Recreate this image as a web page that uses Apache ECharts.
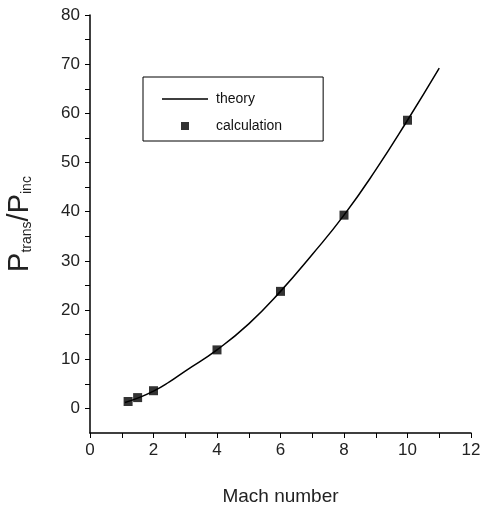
<!DOCTYPE html>
<html><head><meta charset="utf-8">
<script src="https://cdn.jsdelivr.net/npm/echarts@6/dist/echarts.min.js"></script>
<style>html,body{margin:0;padding:0;background:#fff}#c{width:482px;height:511px}</style>
</head><body><div id="c"></div>
<script>
// Theory curve
const theoryMach = [1.1, 1.5, 2, 2.5, 3, 4, 5, 6, 7, 8, 9, 10, 11];
const theoryRatio = [1.2, 2.1, 3.5, 5.4, 7.6, 11.9, 17.2, 23.8, 31.3, 39.3, 48.5, 58.6, 69.2];
// Calculation points
const calcMach = [1.2, 1.5, 2, 4, 6, 8, 10];
const calcRatio = [1.4, 2.2, 3.6, 11.9, 23.8, 39.3, 58.6];
// Tick labels
const xTicks = [0, 2, 4, 6, 8, 10, 12];
const yTicks = [0, 10, 20, 30, 40, 50, 60, 70, 80];

const xMinor = [];
for (let i = 0; i <= 12; i++) xMinor.push(i);
const yMinor = [];
for (let v = 0; v <= 80; v += 5) yMinor.push(v);

const font = 'Liberation Sans, Arial, sans-serif';
const chart = echarts.init(document.getElementById('c'), null, {renderer: 'canvas'});
chart.setOption({
  animation: false,
  backgroundColor: '#fff',
  color: ['#000', '#000'],
  grid: {left: 90, right: 11, top: 15, bottom: 78, containLabel: false, outerBoundsMode: 'none'},
  legend: {
    left: 143, top: 77, orient: 'vertical',
    borderColor: '#000', borderWidth: 1,
    padding: [15, 41, 8, 19],
    itemGap: 13,
    itemWidth: 46, itemHeight: 12,
    textStyle: {fontFamily: font, fontSize: 14, color: '#111', padding: [0, 0, 0, 3]},
    data: [
      {name: 'theory',
       icon: 'path://M0,0L0.01,0L0.01,0.01L0,0.01Z M0,5.3L46,5.3L46,6.7L0,6.7Z M45.99,11.99L46,11.99L46,12L45.99,12Z',
       itemStyle: {color: '#000'}},
      {name: 'calculation',
       icon: 'path://M0,0L0.01,0L0.01,0.01L0,0.01Z M19,2L27,2L27,10L19,10Z M45.99,11.99L46,11.99L46,12L45.99,12Z',
       itemStyle: {color: '#000'}}
    ]
  },
  xAxis: {
    type: 'value', min: 0, max: 12,
    name: 'Mach number', nameLocation: 'middle', nameGap: 54,
    nameTextStyle: {fontFamily: font, fontSize: 19, color: '#222'},
    axisLine: {onZero: false, lineStyle: {color: '#000', width: 1.5}},
    axisTick: {show: true, length: 5, customValues: xMinor, lineStyle: {color: '#000'}},
    axisLabel: {customValues: xTicks, fontFamily: font, fontSize: 17, color: '#222', margin: 9},
    splitLine: {show: false}
  },
  yAxis: {
    type: 'value', min: -5, max: 80,
    name: '{p|P}{s|trans}{p|/P}{s|inc}', nameLocation: 'middle', nameGap: 56,
    nameTextStyle: {
      fontFamily: font, color: '#222',
      rich: {
        p: {fontFamily: font, fontSize: 29, color: '#222'},
        s: {fontFamily: font, fontSize: 14, color: '#222', verticalAlign: 'bottom', padding: [14, 0, 0, 0]}
      }
    },
    axisLine: {show: true, lineStyle: {color: '#000', width: 1.5}},
    axisTick: {show: true, length: 5, customValues: yMinor, lineStyle: {color: '#000'}},
    axisLabel: {customValues: yTicks, fontFamily: font, fontSize: 17, color: '#222', margin: 10},
    splitLine: {show: false}
  },
  series: [
    {
      name: 'theory', type: 'line', smooth: true, symbol: 'none',
      itemStyle: {color: '#000'},
      lineStyle: {color: '#000', width: 1.5},
      data: theoryMach.map((m, i) => [m, theoryRatio[i]])
    },
    {
      name: 'calculation', type: 'scatter', symbol: 'rect', symbolSize: 9,
      itemStyle: {color: '#000'},
      data: calcMach.map((m, i) => [m, calcRatio[i]])
    }
  ]
});
</script></body></html>
